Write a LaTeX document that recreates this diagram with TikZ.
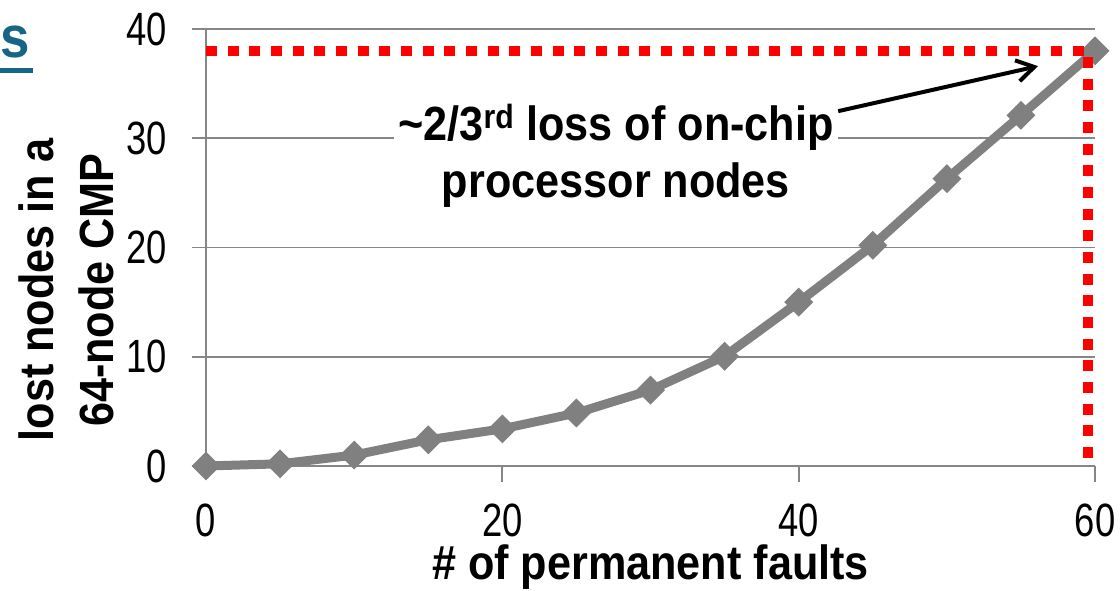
\documentclass[tikz,border=0pt]{standalone}
\usepackage{fontspec}
\setmainfont{Liberation Sans}
\newfontfamily\narrowfont[FakeStretch=0.78]{Liberation Sans}
\newfontfamily\labelfont[FakeStretch=0.9]{Liberation Sans}
\usetikzlibrary{arrows.meta,shapes.geometric,calc}
\definecolor{gridgray}{RGB}{134,134,134}
\definecolor{seriesgray}{RGB}{128,128,128}
\definecolor{faultred}{RGB}{255,0,0}
\definecolor{titleteal}{RGB}{23,101,133}
\tikzset{every picture/.style={line width=0.75pt}}
\tikzset{
  grid line/.style={draw=gridgray, line width=1.3pt},
  tick label/.style={font=\narrowfont\fontsize{35}{40}\selectfont, inner sep=0pt},
  axis title/.style={font=\labelfont\bfseries\fontsize{36}{45}\selectfont, align=center, inner sep=0pt},
  marker/.style={diamond, aspect=1, fill=seriesgray, inner sep=0pt, minimum size=22pt},
  series/.style={draw=seriesgray, line width=6.75pt, line join=round},
  limit/.style={draw=faultred, line width=7.5pt, dash pattern=on 8.25pt off 8pt},
  callout/.style={font=\labelfont\bfseries\fontsize{36}{43}\selectfont, align=center, fill=white, inner sep=3pt},
}

\begin{document}
\begin{tikzpicture}[x=0.75pt,y=0.75pt]
\useasboundingbox (0,0) rectangle (1120,590);

% slide title, cut off at the left edge
\node[anchor=base west, inner sep=0pt, text=titleteal, font=\labelfont\bfseries\fontsize{44}{48}\selectfont] (ttl) at (0,532) {s};
\draw[titleteal, line width=3.75pt] ([yshift=-9.4pt]ttl.base west) -- ([xshift=2pt,yshift=-9.4pt]ttl.base east);

\begin{scope}[shift={(206,124)}, x=11.113pt, y=8.194pt]
  % grid and axes
  \foreach \v in {0,10,...,40}
    \draw[grid line] (-0.95,\v) -- (60,\v);
  \draw[grid line] (0,0) -- (0,40);
  \foreach \u in {20,40,60}
    \draw[grid line] (\u,0) -- (\u,-1.45);
  % tick labels
  \foreach \v in {0,10,...,40}
    \node[tick label, anchor=east] (yt\v) at (-2.6,\v) {\v};
  \foreach \u in {0,20,40,60}
    \node[tick label] (xt\u) at (\u,-4.95) {\u};
  % axis titles
  \node[axis title, anchor=base] (xlab) at (30,-10.4) {\# of permanent faults};
  \node[axis title, rotate=90] (ylab) at (-9.45,16.1) {lost nodes in a\\64-node CMP};
  % lost nodes per fault count
  \foreach \fx/\fy [count=\i] in {0/0, 5/0.2, 10/1.0, 15/2.4, 20/3.4, 25/4.85, 30/6.95,
      35/10.05, 40/15.0, 45/20.2, 50/26.3, 55/32.1, 60/38.0}
    \coordinate (c\i) at (\fx,\fy);
  \draw[series] (c1) \foreach \i in {2,...,13} { -- (c\i) };
  \foreach \i in {1,...,13}
    \node[marker] (p\i) at (c\i) {};
  % 60 faults -> 38 lost nodes
  \draw[limit] (0,38) -| (59.53,0);
  % callout
  \node[callout] (note) at (27.67,28.42) {\textasciitilde2/3\textsuperscript{rd} loss of on-chip\\processor nodes};
  \coordinate (tip) at (56.15,36.6);
  \draw[-{Straight Barb[length=13pt,width=16pt]}, line width=3pt] ([yshift=-9pt]note.north east) -- (tip);
\end{scope}
\end{tikzpicture}
\end{document}
